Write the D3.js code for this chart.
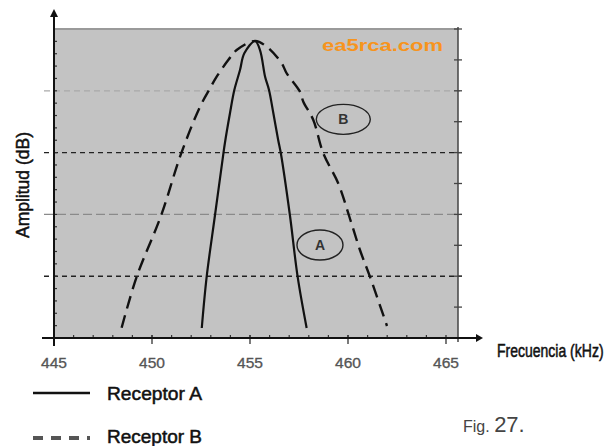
<!DOCTYPE html>
<html><head><meta charset="utf-8">
<script src="https://cdn.jsdelivr.net/npm/d3@7"></script>
<style>body{margin:0;background:#fff}svg{display:block}</style>
</head><body>
<svg id="c" width="611" height="446"></svg>
<script>
// Data (frequency in kHz, relative amplitude in grid units 0..25)
const freqA = [452.54,452.79,453.21,453.64,453.72,453.98,454.20,454.49,454.71,455.26,455.51,455.77,455.97,456.19,456.44,456.58,457.04,457.43,457.89];
const ampA  = [0.81,4.96,9.89,14.89,15.78,18.2,20.06,21.68,23.03,24.03,23.3,21.14,20.06,18.2,16.0,14.89,9.89,4.96,0.81];
const freqB = [448.45,449.22,450.46,451.48,452.45,452.96,453.30,453.89,454.32,455.26,455.85,456.62,456.87,457.55,457.72,458.23,458.74,459.50,460.07,460.61,461.12,461.99];
const ampB  = [0.83,4.96,9.89,14.89,18.71,20.2,21.14,22.49,23.3,24.03,23.57,22.22,21.42,19.93,19.12,17.64,14.94,12.52,9.81,7.12,4.96,0.97];
const xTicks = [445,450,455,460,465];
const xTickLabels = ["445","450","455","460","465"];
const gridLevels = [5,10,15,20];
const seriesNames = ["Receptor A","Receptor B"];
const labelA = {f:458.57, v:7.52, t:"A"};
const labelB = {f:459.76, v:17.69, t:"B"};

(function(){
const svg = d3.select("#c");
const x = d3.scaleLinear().domain([445,465]).range([54,446]);
const y = d3.scaleLinear().domain([0,25]).range([338,29]);
const FONT = "'Liberation Sans',Arial,sans-serif";
const pL = x(445), pR = 458, pT = y(25), pB = y(0);

svg.append("rect").attr("x",pL).attr("y",pT).attr("width",pR-pL).attr("height",pB-pT).attr("fill","#c3c3c3");
svg.append("line").attr("x1",pL).attr("x2",pR).attr("y1",pT).attr("y2",pT).attr("stroke","#9a9a9a").attr("stroke-width",2);

const gridStyle = {5:["#222","5,4",1.4],10:["#8a8a8a","9,4",1.2],15:["#222","5,4",1.4],20:["#a9a9a9","6,4",1.2]};
svg.selectAll(".grid").data(gridLevels).enter().append("line")
  .attr("x1",44).attr("x2",pR+4)
  .attr("y1",d=>y(d)).attr("y2",d=>y(d))
  .attr("stroke",d=>gridStyle[d][0]).attr("stroke-dasharray",d=>gridStyle[d][1]).attr("stroke-width",d=>gridStyle[d][2]);

svg.append("line").attr("x1",pR).attr("x2",pR).attr("y1",pT-2).attr("y2",pB+4).attr("stroke","#444").attr("stroke-width",1.5);
svg.selectAll(".rt").data(d3.range(0,25.01,2.5)).enter().append("line")
  .attr("x1",pR-4).attr("x2",pR+4).attr("y1",d=>y(d)).attr("y2",d=>y(d)).attr("stroke","#444").attr("stroke-width",1.3);

svg.selectAll(".lt").data(d3.range(1,25)).enter().append("line")
  .attr("x1",pL).attr("x2",pL+3).attr("y1",d=>y(d)).attr("y2",d=>y(d)).attr("stroke","#333").attr("stroke-width",1.2);

svg.selectAll(".xm").data(d3.range(446,465)).enter().append("line")
  .attr("x1",d=>x(d)).attr("x2",d=>x(d)).attr("y1",pB).attr("y2",pB-3).attr("stroke","#333").attr("stroke-width",1.2);
svg.selectAll(".xM").data(xTicks).enter().append("line")
  .attr("x1",d=>x(d)).attr("x2",d=>x(d)).attr("y1",pB-3).attr("y2",pB+6).attr("stroke","#333").attr("stroke-width",1.3);
svg.selectAll(".xl").data(xTicks).enter().append("text")
  .attr("x",d=>x(d)).attr("y",368).attr("text-anchor","middle")
  .attr("font-family",FONT).attr("font-size",14).attr("fill","#555").attr("stroke","#555").attr("stroke-width",0.3)
  .attr("textLength",26).attr("lengthAdjust","spacingAndGlyphs")
  .text((d,i)=>xTickLabels[i]);

svg.append("line").attr("x1",42).attr("x2",476).attr("y1",pB).attr("y2",pB).attr("stroke","#111").attr("stroke-width",2);
svg.append("path").attr("d",`M${476},${pB-4}L${483},${pB}L${476},${pB+4}Z`).attr("fill","#111");
svg.append("line").attr("x1",pL).attr("x2",pL).attr("y1",pB+8).attr("y2",16).attr("stroke","#111").attr("stroke-width",2);
svg.append("path").attr("d",`M${pL-4},17L${pL},9L${pL+4},17Z`).attr("fill","#111");

const line = d3.line().x(d=>x(d[0])).y(d=>y(d[1])).curve(d3.curveCatmullRom.alpha(0.5));
const dataA = freqA.map((f,i)=>[f,ampA[i]]);
const dataB = freqB.map((f,i)=>[f,ampB[i]]);
svg.append("path").attr("d",line(dataB)).attr("fill","none").attr("stroke","#111").attr("stroke-width",2.4).attr("stroke-dasharray","13,7");
svg.append("path").attr("d",line(dataA)).attr("fill","none").attr("stroke","#111").attr("stroke-width",2.2);

[[labelB,27],[labelA,23]].forEach(([l,rx])=>{
  svg.append("ellipse").attr("cx",x(l.f)).attr("cy",y(l.v)).attr("rx",rx).attr("ry",15)
    .attr("fill","none").attr("stroke","#222").attr("stroke-width",1.4);
  svg.append("text").attr("x",x(l.f)).attr("y",y(l.v)+5).attr("text-anchor","middle")
    .attr("font-family",FONT).attr("font-size",14).attr("font-weight","bold").attr("fill","#333").text(l.t);
});

svg.append("text").attr("x",322).attr("y",51).attr("font-family",FONT)
  .attr("font-size",17).attr("font-weight","bold").attr("fill","#f7941d")
  .attr("textLength",121).attr("lengthAdjust","spacingAndGlyphs").text("ea5rca.com");

svg.append("text").attr("transform","translate(497,357) scale(1,1.35)").attr("font-family",FONT).attr("font-size",14)
  .attr("fill","#111").attr("stroke","#111").attr("stroke-width",0.4).text("Frecuencia (kHz)");
svg.append("text").attr("transform","translate(29,185) rotate(-90)").attr("text-anchor","middle")
  .attr("font-family",FONT).attr("font-size",18).attr("fill","#111").attr("stroke","#111").attr("stroke-width",0.5)
  .attr("textLength",106).attr("lengthAdjust","spacingAndGlyphs").text("Amplitud (dB)");

svg.append("line").attr("x1",33).attr("x2",90).attr("y1",393).attr("y2",393).attr("stroke","#111").attr("stroke-width",2.5);
svg.append("line").attr("x1",33).attr("x2",90).attr("y1",438).attr("y2",438).attr("stroke","#555").attr("stroke-width",4).attr("stroke-dasharray","10,8");
svg.selectAll(".lg").data(seriesNames).enter().append("text")
  .attr("x",107).attr("y",(d,i)=>i?443:400)
  .attr("font-family",FONT).attr("font-size",18).attr("fill","#111").attr("stroke","#111").attr("stroke-width",0.5)
  .attr("textLength",95).attr("lengthAdjust","spacingAndGlyphs").text(d=>d);

const fig = svg.append("text").attr("x",463).attr("y",432).attr("font-family",FONT).attr("fill","#444");
fig.append("tspan").attr("font-size",16).text("Fig. ");
fig.append("tspan").attr("font-size",22).text("27.");
})();
</script>
</body></html>
